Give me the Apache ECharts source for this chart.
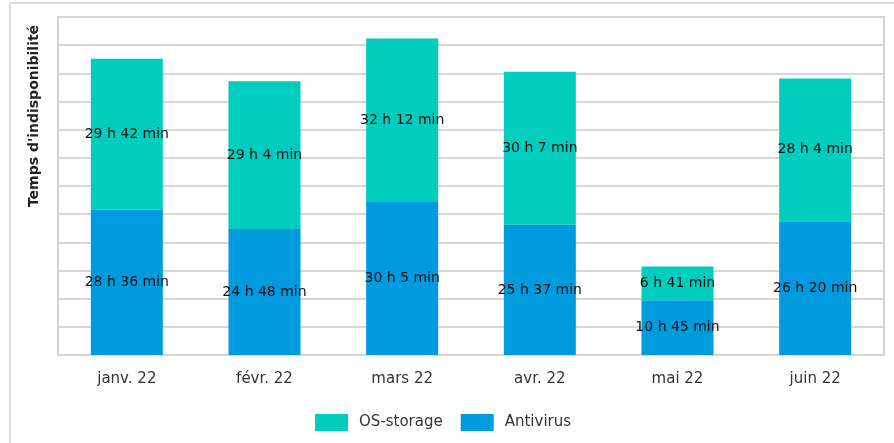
<!DOCTYPE html>
<html>
<head>
<meta charset="utf-8">
<script src="https://cdn.jsdelivr.net/npm/echarts@6/dist/echarts.min.js"></script>
<style>
html,body{margin:0;padding:0;background:#fff;}
#c{width:894px;height:443px;}
</style>
</head>
<body>
<div id="c"></div>
<script>
// Data (durations in minutes)
const categories = ["janv. 22", "févr. 22", "mars 22", "avr. 22", "mai 22", "juin 22"];
const antivirus = [1716, 1488, 1805, 1537, 645, 1580];   // 28h36, 24h48, 30h5, 25h37, 10h45, 26h20
const osStorage = [1782, 1744, 1932, 1807, 401, 1684];   // 29h42, 29h4, 32h12, 30h7, 6h41, 28h4
const seriesNames = ["OS-storage", "Antivirus"];
const yTitle = "Temps d'indisponibilité";

function fmt(m) {
  const h = Math.floor(m / 60);
  const mm = m % 60;
  return h + " h " + mm + " min";
}

const chart = echarts.init(document.getElementById('c'));
const labelStyle = {
  show: true,
  position: 'inside',
  color: '#111',
  fontSize: 14,
  fontFamily: 'DejaVu Sans',
  formatter: p => fmt(p.value)
};
const yMax = 3990;
chart.setOption({
  animation: false,
  backgroundColor: '#fff',
  grid: { left: 58, right: 10, top: 17, bottom: 88, show: true, borderColor: '#d3d3d3', borderWidth: 2 },
  graphic: [
    { type: 'rect', shape: { x: 10, y: 3, width: 900, height: 460 }, style: { fill: 'none', stroke: '#dedede', lineWidth: 2 }, z: -1 },
    { type: 'text', x: 34, y: 116, rotation: Math.PI / 2,
      style: { text: yTitle, fontSize: 14, fontWeight: 'bold', fontFamily: 'DejaVu Sans', fill: '#222', align: 'center', verticalAlign: 'middle' } }
  ],
  legend: {
    data: seriesNames,
    left: 310, top: 409,
    itemWidth: 33, itemHeight: 17, itemGap: 18,
    icon: 'rect',
    textStyle: { fontSize: 15, color: '#333', fontFamily: 'DejaVu Sans', padding: [0, 0, 0, 6] }
  },
  xAxis: {
    type: 'category',
    data: categories,
    axisLine: { show: false },
    axisTick: { show: false },
    axisLabel: { color: '#333', fontSize: 15, fontFamily: 'DejaVu Sans', margin: 17 }
  },
  yAxis: {
    type: 'value',
    min: 0, max: yMax, interval: yMax / 12,
    axisLabel: { show: false },
    axisLine: { show: false },
    axisTick: { show: false },
    splitLine: { lineStyle: { color: '#d6d6d6', width: 2 } }
  },
  series: [
    { name: 'Antivirus', type: 'bar', stack: 't', data: antivirus, barWidth: 72,
      itemStyle: { color: '#009ADE' }, label: labelStyle },
    { name: 'OS-storage', type: 'bar', stack: 't', data: osStorage, barWidth: 72,
      itemStyle: { color: '#00CDBE' }, label: labelStyle }
  ]
});
</script>
</body>
</html>
